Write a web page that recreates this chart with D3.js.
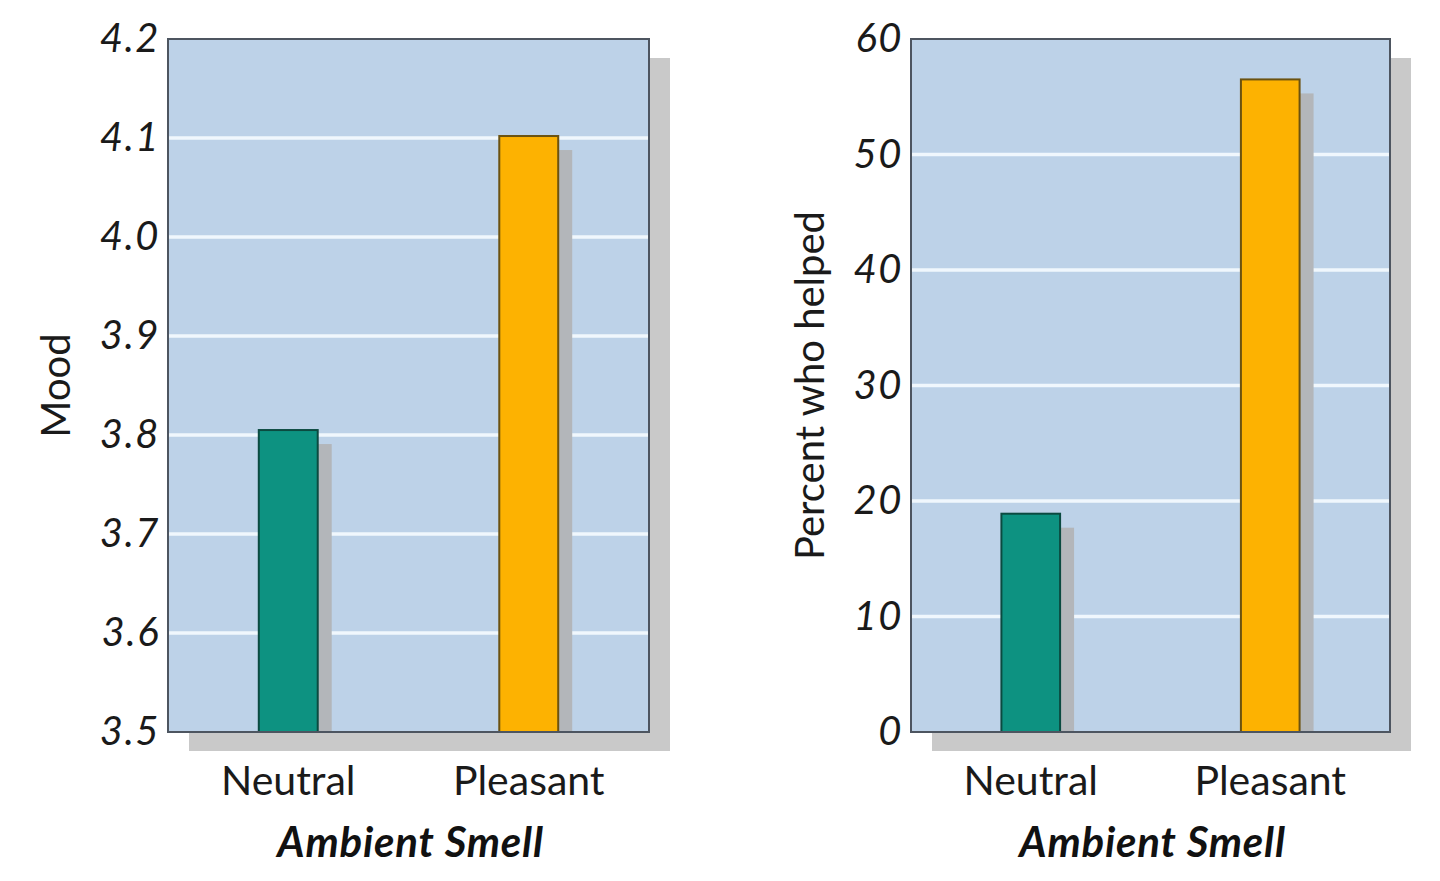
<!DOCTYPE html>
<html><head><meta charset="utf-8">
<script src="https://cdn.jsdelivr.net/npm/d3@7"></script>
<style>
html,body{margin:0;padding:0;background:#fff;}
svg{display:block;}
</style></head>
<body>
<svg id="c" width="1440" height="881"></svg>
<script>
const categories = ["Neutral", "Pleasant"];
const moodValues = [3.805, 4.102];
const helpedValues = [18.9, 56.5];
const moodTicks = [3.5, 3.6, 3.7, 3.8, 3.9, 4.0, 4.1, 4.2];
const helpedTicks = [0, 10, 20, 30, 40, 50, 60];
const barColors = ["#0d9281", "#fdb201"];
const xTitle = "Ambient Smell";

const svg = d3.select("#c");
const font = "'Lato', 'Noto Sans', sans-serif";

function panel(opts) {
  const {x0, x1, y0, y1, values, domain, ticks, fmt, yTitle, titleX, id} = opts;
  const g = svg.append("g");
  const w = x1 - x0, h = y1 - y0;
  const y = d3.scaleLinear().domain(domain).range([y1, y0]);
  const x = d3.scaleBand().domain(categories).range([x0, x1]).paddingInner(0.755).paddingOuter(0.3775);

  // panel shadow
  g.append("rect").attr("x", x0 + 21).attr("y", y0 + 19).attr("width", w).attr("height", h).attr("fill", "#c9c9c9");
  // background
  g.append("rect").attr("x", x0).attr("y", y0).attr("width", w).attr("height", h).attr("fill", "#bdd2e8");

  // gridlines
  g.append("g").selectAll("line").data(ticks.slice(1, -1)).join("line")
    .attr("x1", x0).attr("x2", x1).attr("y1", d => y(d)).attr("y2", d => y(d))
    .attr("stroke", "#f0f7fd").attr("stroke-width", 3.5);

  // clip
  svg.append("clipPath").attr("id", id).append("rect").attr("x", x0).attr("y", y0).attr("width", w).attr("height", h);

  const bars = g.append("g").attr("clip-path", `url(#${id})`);
  // bar shadows
  bars.selectAll("rect.sh").data(values).join("rect").attr("class", "sh")
    .attr("x", (d, i) => x(categories[i]) + 14).attr("y", d => y(d) + 14)
    .attr("width", x.bandwidth()).attr("height", d => y1 - y(d))
    .attr("fill", "#b3b6ba");
  bars.selectAll("rect.bar").data(values).join("rect").attr("class", "bar")
    .attr("x", (d, i) => x(categories[i])).attr("y", d => y(d))
    .attr("width", x.bandwidth()).attr("height", d => y1 - y(d))
    .attr("fill", (d, i) => barColors[i]).attr("stroke", (d, i) => i === 0 ? "#0b4a40" : "#6b5210").attr("stroke-width", 2);

  // border
  g.append("rect").attr("x", x0).attr("y", y0).attr("width", w).attr("height", h)
    .attr("fill", "none").attr("stroke", "#4d5560").attr("stroke-width", 2);

  // y axis labels
  const ax = d3.axisLeft(y).tickValues(ticks).tickFormat(fmt).tickSize(0).tickPadding(8);
  const ag = g.append("g").attr("transform", `translate(${x0},0)`).call(ax);
  ag.select(".domain").remove();
  ag.selectAll("text").attr("font-family", font).attr("font-style", "italic")
    .attr("font-size", 40).attr("letter-spacing", 1.5).attr("fill", "#1a1a1a");

  // x axis labels
  const bx = d3.axisBottom(x).tickSize(0).tickPadding(34);
  const bg = g.append("g").attr("transform", `translate(0,${y1})`).call(bx);
  bg.select(".domain").remove();
  bg.selectAll("text").attr("font-family", font).attr("font-size", 41).attr("fill", "#1a1a1a");

  // x title
  g.append("text").attr("x", (x0 + x1) / 2 + 2).attr("y", 857).attr("text-anchor", "middle")
    .attr("font-family", font).attr("font-style", "italic").attr("font-weight", "bold")
    .attr("font-size", 42).attr("letter-spacing", 0.8).attr("fill", "#111").text(xTitle);

  // y title
  g.append("text").attr("transform", `translate(${titleX},${(y0 + y1) / 2}) rotate(-90)`)
    .attr("text-anchor", "middle").attr("font-family", font).attr("font-size", 40).attr("fill", "#1a1a1a").text(yTitle);
}

panel({x0: 168, x1: 649, y0: 39, y1: 732, values: moodValues, domain: [3.5, 4.2], ticks: moodTicks,
  fmt: d3.format(".1f"), yTitle: "Mood", titleX: 70, id: "clipA"});
panel({x0: 911, x1: 1390, y0: 39, y1: 732, values: helpedValues, domain: [0, 60], ticks: helpedTicks,
  fmt: d3.format("d"), yTitle: "Percent who helped", titleX: 824, id: "clipB"});
</script>
</body></html>
